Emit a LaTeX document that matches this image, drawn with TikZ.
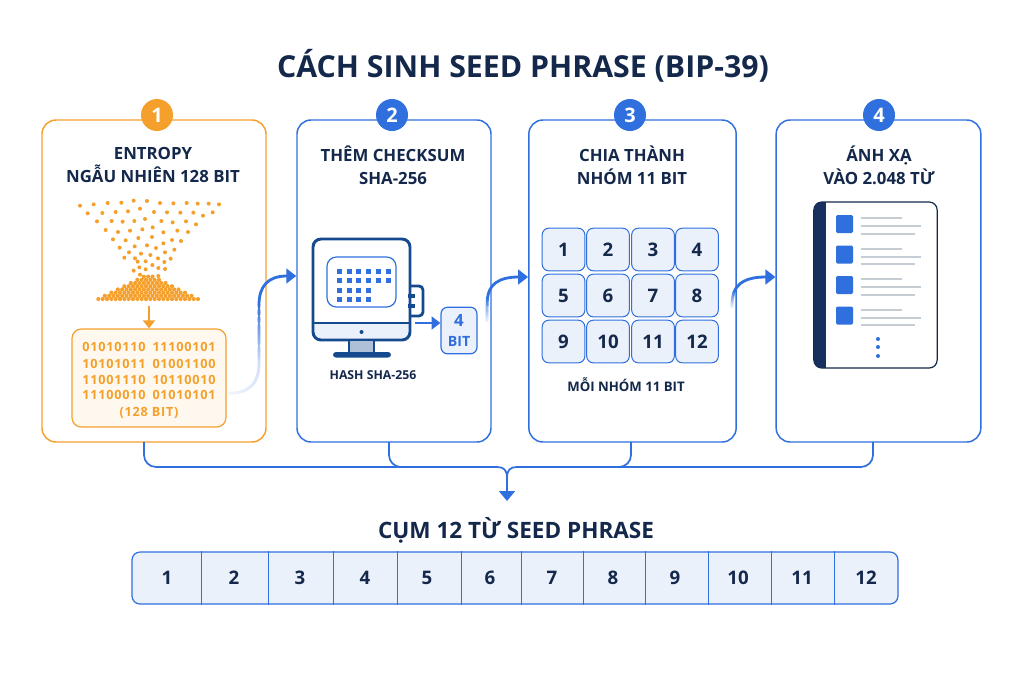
\documentclass[tikz,border=0pt]{standalone}
\usepackage{fontspec}
\setmainfont{Open Sans}
\newfontfamily\spaced[LetterSpace=6]{Open Sans}
\usetikzlibrary{arrows.meta,calc}
\definecolor{navy}{HTML}{14284B}
\definecolor{monitor}{HTML}{164A8E}
\definecolor{blueline}{HTML}{2F6FDE}
\definecolor{bluefill}{HTML}{EAF1FB}
\definecolor{amber}{HTML}{F5A02C}
\definecolor{amberfill}{HTML}{FEF8EE}
\definecolor{inkgrey}{HTML}{C5CCD3}
\tikzset{
  x=0.75pt,y=-0.75pt,
  card/.style={draw=blueline,line width=1.1pt,fill=white,rounded corners=10.5pt,inner sep=0pt},
  cardamber/.style={card,draw=amber},
  badge/.style={circle,fill=blueline,text=white,inner sep=0pt,minimum size=24pt,font=\fontsize{15}{15}\selectfont\bfseries},
  heading/.style={text=navy,font=\fontsize{12.6}{17.3}\selectfont\bfseries,align=center,inner sep=0pt},
  small/.style={text=navy,font=\fontsize{9.2}{10}\selectfont\bfseries,inner sep=0pt},
  cell/.style={draw=blueline,line width=0.75pt,fill=bluefill,rounded corners=5pt,minimum width=32pt,minimum height=32pt,inner sep=0pt,text=navy,text height=10pt,text depth=0pt,font=\fontsize{14}{16}\selectfont\bfseries},
  num/.style={text=navy,text height=10pt,text depth=0pt,font=\fontsize{14}{16}\selectfont\bfseries,inner sep=0pt},
  bus/.style={draw=blueline,line width=1.3pt,rounded corners=9pt},
  flow/.style={draw=blueline,line width=2.1pt,-{Triangle[length=7.5pt,width=11pt]}},
  binline/.style={text=amber,font=\fontsize{9.5}{12}\selectfont\spaced\bfseries,inner sep=0pt},
  docline/.style={draw=inkgrey,line width=1.5pt},
}
% cubic segment drawn in short pieces whose colour ramps from \kA to \kB percent blue
\newcommand{\fadeseg}[6]{%
  \foreach \i in {0,...,23}{%
    \pgfmathsetmacro\ta{\i/24}\pgfmathsetmacro\tb{(\i+1.15)/24}%
    \pgfmathsetmacro\xa{(1-\ta)^3*\fxs+3*(1-\ta)^2*\ta*#1+3*(1-\ta)*\ta^2*#3+\ta^3*#5}%
    \pgfmathsetmacro\ya{(1-\ta)^3*\fys+3*(1-\ta)^2*\ta*#2+3*(1-\ta)*\ta^2*#4+\ta^3*#6}%
    \pgfmathsetmacro\xb{(1-\tb)^3*\fxs+3*(1-\tb)^2*\tb*#1+3*(1-\tb)*\tb^2*#3+\tb^3*#5}%
    \pgfmathsetmacro\yb{(1-\tb)^3*\fys+3*(1-\tb)^2*\tb*#2+3*(1-\tb)*\tb^2*#4+\tb^3*#6}%
    \pgfmathsetmacro\kk{\kA+(\kB-\kA)*\ta}%
    \draw[blueline!\kk!white,line width=2.1pt] (\xa,\ya) -- (\xb,\yb);
  }}
\begin{document}
\begin{tikzpicture}
\useasboundingbox (0,0) rectangle (1024,683);
\fill[white] (0,0) rectangle (1024,683);

\node[text=navy,font=\fontsize{22.7}{26}\selectfont\bfseries,inner sep=0pt] (title) at (523,66) {CÁCH SINH SEED PHRASE (BIP-39)};

% step cards
\node[cardamber,minimum width=168pt,minimum height=241.5pt] (card1) at (154,281) {};
\node[card,minimum width=145.5pt,minimum height=241.5pt] (card2) at (394,281) {};
\node[card,minimum width=155.5pt,minimum height=241.5pt] (card3) at (632.5,281) {};
\node[card,minimum width=153.5pt,minimum height=241.5pt] (card4) at (878.5,281) {};

% collector lines under the cards
\coordinate (busL) at (497,467);
\coordinate (busR) at (517,467);
\coordinate (merge) at (507,478);
\coordinate (drop) at (507,501);
\coordinate (bus1) at (144,442);
\coordinate (bus2) at (389,442);
\coordinate (bus3) at (631,442);
\coordinate (bus4) at (873,442);
\draw[bus] (bus1) |- (busL);
\draw[bus] (bus2) |- (busL);
\draw[bus] (bus3) |- (busR);
\draw[bus] (bus4) |- (busR);
\draw[blueline,line width=1.3pt] (busL) .. controls (504,467) and (507,470) .. (merge);
\draw[blueline,line width=1.3pt] (busR) .. controls (510,467) and (507,470) .. (merge);
\draw[blueline,line width=1.3pt,-{Triangle[length=7.5pt,width=12pt]}] (merge) -- (drop);

% badges
\node[badge,fill=amber] (b1) at (157,115) {1};
\node[badge] (b2) at (392,115) {2};
\node[badge] (b3) at (630,115) {3};
\node[badge] (b4) at (879,115) {4};

% headings
\node[heading] (h1) at (153,165) {ENTROPY\\NGẪU NHIÊN 128 BIT};
\node[heading] (h2) at (393,165) {THÊM CHECKSUM\\SHA-256};
\node[heading] (h3) at (632,165) {CHIA THÀNH\\NHÓM 11 BIT};
\node[heading] (h4) at (879,165) {ÁNH XẠ\\VÀO 2.048 TỪ};

% falling grains, drawn on a three-times-enlarged grid
\begin{scope}[shift={(30,95)},x=0.25pt,y=-0.25pt]
\foreach \a/\b in {150/332,191/328,233/324,274/323,311/317,351/318,390/324,430/325,470/324,503/326,536/326,567/328,
  173/355,217/354,257/351,294/349,330/341,372/351,411/352,451/353,490/353,519/362,548/352,
  201/379,245/378,278/380,313/378,345/372,394/378,428/382,468/379,498/388,
  227/405,264/411,300/407,337/403,368/397,400/412,442/407,474/411,
  249/433,287/436,325/429,366/426,400/445,426/435,453/438,
  269/458,314/454,351/451,378/459,405/472,433/464,
  297/472,333/476,361/480,283/488,315/490,384/490,422/491,
  323/500,347/499,403/501,328/517,367/510,385/519,311/527,347/523,405/522,330/539,385/543}
  \fill[amber] (\a,\b) circle (6);
\foreach \r in {0,...,7}{
  \pgfmathsetmacro\half{155-19.5*\r}
  \pgfmathsetmacro\yy{612-9.6*\r}
  \pgfmathsetmacro\cnt{int(2*\half/13)}
  \foreach \s in {0,...,\cnt}
    \fill[amber] ({360-\half+13*\s},\yy) circle (6.2);
}
\end{scope}
\coordinate (pile) at (149,306);

% binary block
\node[draw=amber,line width=0.9pt,fill=amberfill,rounded corners=7pt,minimum width=115.5pt,minimum height=73.5pt,inner sep=0pt] (bin) at (149,378) {};
\draw[amber,line width=1.3pt,-{Triangle[length=6pt,width=9pt]}] (pile) -- (bin.north);
\node[binline] (b1l) at (149,347) {01010110\hspace{0.55em}11100101};
\node[binline] (b2l) at (149,364) {10101011\hspace{0.55em}01001100};
\node[binline] (b3l) at (149,380) {11001110\hspace{0.55em}10110010};
\node[binline] (b4l) at (149,395) {11100010\hspace{0.55em}01010101};
\node[binline] (b5l) at (149,413) {(128 BIT)};

% connector from the binary block to the checksum card
\coordinate (in2) at (card2.west |- 0,276);
\def\kA{7}\def\kB{22}\def\fxs{228}\def\fys{393}
\fadeseg{243}{394}{259}{388}{259}{364}
\def\kA{22}\def\kB{100}\def\fxs{259}\def\fys{364}
\fadeseg{259}{345}{259}{325}{259}{305}
\draw[flow] (259,305) .. controls (259,286) and (268,276) .. (in2);

% computer
\draw[monitor,line width=2.1pt,fill=white,rounded corners=3pt] (410,286) -- (423,286) -- (423,316) -- (410,316);
\node[fill=monitor,minimum width=5.5pt,minimum height=3pt,inner sep=0pt] (port1) at (411.5,296) {};
\node[fill=monitor,minimum width=5.5pt,minimum height=3pt,inner sep=0pt] (port2) at (411.5,305.5) {};
\fill[bluefill,rounded corners=4pt] (313,323) rectangle (410,340);
\draw[monitor,line width=2.2pt,rounded corners=6pt] (313,239) rectangle (410,340);
\draw[monitor,line width=2pt] (313,323) -- (410,323);
\fill[monitor] (361.5,332) circle (2);
\fill[monitor!35!white] (349,341) rectangle (374,352);
\draw[monitor,line width=1.6pt] (349,341) -- (349,352) (374,341) -- (374,352);
\fill[monitor,rounded corners=2.2pt] (333,352) rectangle (391,357.5);
\draw[blueline,line width=0.9pt,rounded corners=7pt,fill=white] (327,257) rectangle (396,307);
\foreach \gx in {337,346.7,356.4,366.4,376.4,386}
  \foreach \gy in {268.5,278}
    \fill[blueline] (\gx,\gy) rectangle ++(5,5);
\foreach \gx in {337,346.7,356.4,366.4}
  \foreach \gy in {287.5,297}
    \fill[blueline] (\gx,\gy) rectangle ++(5,5);

\node[draw=blueline,line width=0.9pt,fill=bluefill,rounded corners=5pt,minimum width=27pt,minimum height=35pt,inner sep=0pt,text=blueline,align=center,font=\fontsize{10.6}{14.5}\selectfont\bfseries] (four) at (459,330.5) {{\fontsize{12.6}{14.5}\selectfont 4}\\BIT};
\coordinate (hashout) at (415,323);
\draw[blueline,line width=1.6pt,-{Triangle[length=6.5pt,width=9.5pt]}] (hashout) -- (hashout -| four.west);
\node[small] (hash) at (373,375) {HASH SHA-256};

% connector from the checksum card to the grouping card
\coordinate (in3) at (card3.west |- 0,277);
\def\kA{10}\def\kB{100}\def\fxs{487}\def\fys{322}
\fadeseg{487}{313}{487}{306}{487.5}{298}
\draw[flow] (487.5,298) .. controls (489,285) and (498,277) .. (in3);

% twelve groups
\foreach \n/\cx/\cy in {1/563.5/249.5,2/608/249.5,3/653/249.5,4/697/249.5,
  5/563.5/295.5,6/608/295.5,7/653/295.5,8/697/295.5,
  9/563.5/341.5,10/608/341.5,11/653/341.5,12/697/341.5}
  \node[cell] (g\n) at (\cx,\cy) {\n};
\node[small,font=\fontsize{9.9}{10}\selectfont\bfseries] (each) at (626,385) {MỖI NHÓM 11 BIT};

% connector from the grouping card to the word list
\coordinate (in4) at (card4.west |- 0,277);
\def\kA{10}\def\kB{100}\def\fxs{732}\def\fys{308}
\fadeseg{732}{302}{732.5}{297}{734}{292}
\draw[flow] (734,292) .. controls (738,283) and (746,277) .. (in4);

% word list sheet
\node[draw=navy,line width=0.9pt,fill=white,rounded corners=6pt,minimum width=92.5pt,minimum height=124.5pt,inner sep=0pt] (sheet) at (875.5,285) {};
\begin{scope}
\clip[rounded corners=6pt] (814,202) rectangle (937,368);
\fill[navy!88!blueline] (814,202) rectangle (826,368);
\end{scope}
\foreach \dy in {0,30.5,61,91.5}{
  \fill[blueline,rounded corners=1pt] (836,215+\dy) rectangle (853,233+\dy);
  \draw[docline] (861,218+\dy) -- (902,218+\dy);
  \draw[docline] (861,226+\dy) -- (921,226+\dy);
  \draw[docline] (861,233.5+\dy) -- (915,233.5+\dy);
}
\foreach \dy in {339,347,356}
  \fill[blueline] (878,\dy) circle (2);

% finished phrase
\node[text=navy,font=\fontsize{16.9}{20}\selectfont\bfseries,inner sep=0pt] (phrase) at (516,530) {CỤM 12 TỪ SEED PHRASE};
\node[draw=blueline,line width=0.9pt,fill=bluefill,rounded corners=6pt,minimum width=574.5pt,minimum height=39pt,inner sep=0pt] (row) at (515,578) {};
\foreach \dx in {201,268,333,397,461,521,583,645,708,771,834}
  \draw[blueline,line width=0.7pt] (\dx,0 |- row.north) -- (\dx,0 |- row.south);
\foreach \n/\cx in {1/167,2/234,3/300,4/365,5/427,6/490,7/552,8/613,9/675,10/738,11/802,12/866}
  \node[num] (w\n) at (\cx,578) {\n};
\end{tikzpicture}
\end{document}
